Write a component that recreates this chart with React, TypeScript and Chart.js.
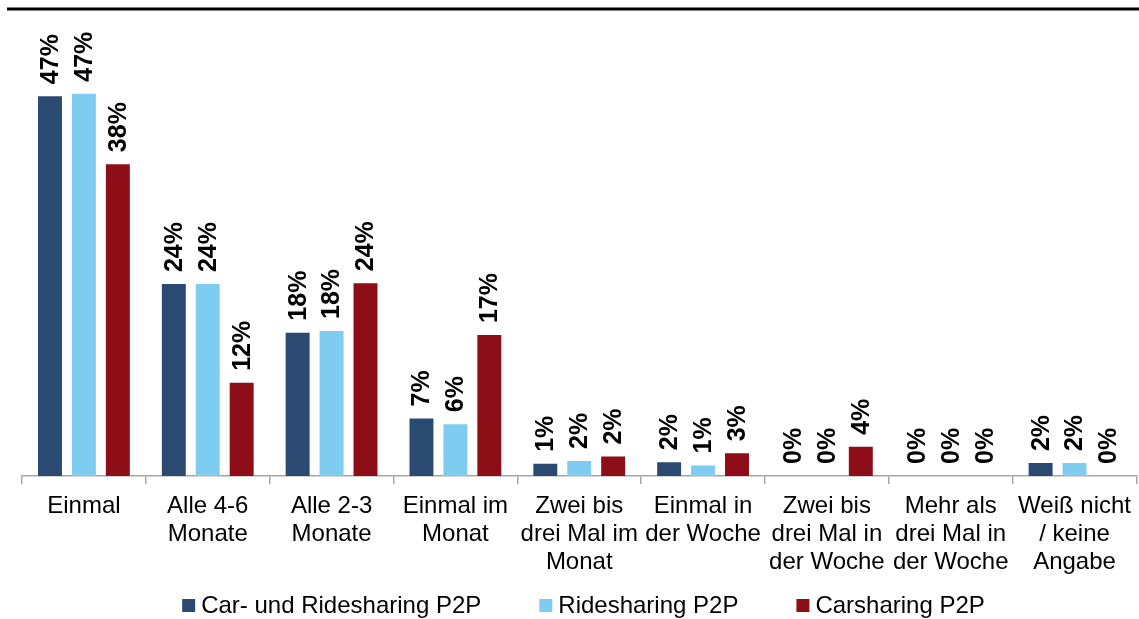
import React, { useEffect, useRef } from "react";
import { Chart, registerables } from "chart.js";

Chart.register(...registerables);

const categories: string[][] = [
  ["Einmal"],
  ["Alle 4-6", "Monate"],
  ["Alle 2-3", "Monate"],
  ["Einmal im", "Monat"],
  ["Zwei bis", "drei Mal im", "Monat"],
  ["Einmal in", "der Woche"],
  ["Zwei bis", "drei Mal in", "der Woche"],
  ["Mehr als", "drei Mal in", "der Woche"],
  ["Weiß nicht", "/ keine", "Angabe"],
];

const seriesNames = ["Car- und Ridesharing P2P", "Ridesharing P2P", "Carsharing P2P"];

const carRideValues = [46.9, 23.7, 17.7, 7.1, 1.5, 1.7, 0, 0, 1.6];
const rideValues = [47.2, 23.7, 17.9, 6.4, 1.85, 1.3, 0, 0, 1.6];
const carValues = [38.5, 11.5, 23.8, 17.4, 2.4, 2.8, 3.6, 0, 0];

const carRideLabels = [47, 24, 18, 7, 1, 2, 0, 0, 2];
const rideLabels = [47, 24, 18, 6, 2, 1, 0, 0, 2];
const carLabels = [38, 12, 24, 17, 2, 3, 4, 0, 0];

const colors = ["#2A4A72", "#7FCCF1", "#8D0E16"];

const FONT = "'Liberation Sans', Arial, Helvetica, sans-serif";

const topRulePlugin = {
  id: "topRule",
  beforeDraw(chart: any) {
    const ctx = chart.ctx;
    ctx.save();
    ctx.strokeStyle = "#000";
    ctx.lineWidth = 3;
    ctx.beginPath();
    ctx.moveTo(7, 9);
    ctx.lineTo(chart.width, 9);
    ctx.stroke();
    ctx.restore();
  },
};

const valueLabelPlugin = {
  id: "valueLabels",
  afterDatasetsDraw(chart: any) {
    const ctx = chart.ctx;
    const labelSets = [carRideLabels, rideLabels, carLabels];
    ctx.save();
    ctx.font = `bold 25px ${FONT}`;
    ctx.fillStyle = "#000";
    ctx.textAlign = "left";
    ctx.textBaseline = "middle";
    chart.data.datasets.forEach((_ds: any, di: number) => {
      const meta = chart.getDatasetMeta(di);
      meta.data.forEach((el: any, i: number) => {
        ctx.save();
        ctx.translate(el.x, el.y - 12);
        ctx.rotate(-Math.PI / 2);
        ctx.fillText(`${labelSets[di][i]}%`, 0, 1);
        ctx.restore();
      });
    });
    ctx.restore();
  },
};

const legendPlugin = {
  id: "customLegend",
  afterDraw(chart: any) {
    const ctx = chart.ctx;
    const box = 13;
    const boxGap = 6;
    const itemGap = 58;
    const yCenter = 605.5;
    ctx.save();
    ctx.font = `24px ${FONT}`;
    ctx.textAlign = "left";
    ctx.textBaseline = "middle";
    const items = chart.data.datasets.map((ds: any) => ({
      text: ds.label as string,
      color: ds.backgroundColor as string,
      w: ctx.measureText(ds.label).width,
    }));
    const total =
      items.reduce((s: number, it: any) => s + box + boxGap + it.w, 0) + itemGap * (items.length - 1);
    let x = chart.width / 2 + 14 - total / 2;
    items.forEach((it: any) => {
      ctx.fillStyle = it.color;
      ctx.fillRect(x, yCenter - box / 2, box, box);
      ctx.fillStyle = "#000";
      ctx.fillText(it.text, x + box + boxGap, yCenter + 1);
      x += box + boxGap + it.w + itemGap;
    });
    ctx.restore();
  },
};

export default function App() {
  const ref = useRef<HTMLCanvasElement | null>(null);

  useEffect(() => {
    if (!ref.current) return;
    const chart = new Chart(ref.current, {
      type: "bar",
      data: {
        labels: categories,
        datasets: [carRideValues, rideValues, carValues].map((vals, i) => ({
          label: seriesNames[i],
          data: vals,
          backgroundColor: colors[i],
          borderWidth: 0,
          categoryPercentage: 0.822,
          barPercentage: 0.706,
        })),
      },
      options: {
        animation: false,
        responsive: true,
        maintainAspectRatio: false,
        layout: { padding: { left: 22, right: 0, top: 20, bottom: 0 } },
        scales: {
          x: {
            afterFit: (scale: any) => {
              scale.height = 143;
            },
            grid: {
              offset: true,
              drawOnChartArea: false,
              drawTicks: true,
              tickLength: 8,
              color: "#a6a6a6",
              lineWidth: 1.5,
            },
            border: { color: "#a6a6a6", width: 1.5 },
            ticks: {
              color: "#000",
              font: { family: FONT, size: 24, lineHeight: 1.18 },
              padding: 8,
              maxRotation: 0,
              minRotation: 0,
              autoSkip: false,
            },
          },
          y: {
            display: false,
            min: 0,
            max: 56.3,
          },
        },
        plugins: {
          legend: { display: false },
          tooltip: { enabled: false },
        },
      },
      plugins: [topRulePlugin, valueLabelPlugin, legendPlugin],
    });
    return () => chart.destroy();
  }, []);

  return (
    <div style={{ position: "absolute", left: 0, top: 0, width: 1139, height: 619, background: "#fff" }}>
      <canvas ref={ref} />
    </div>
  );
}
